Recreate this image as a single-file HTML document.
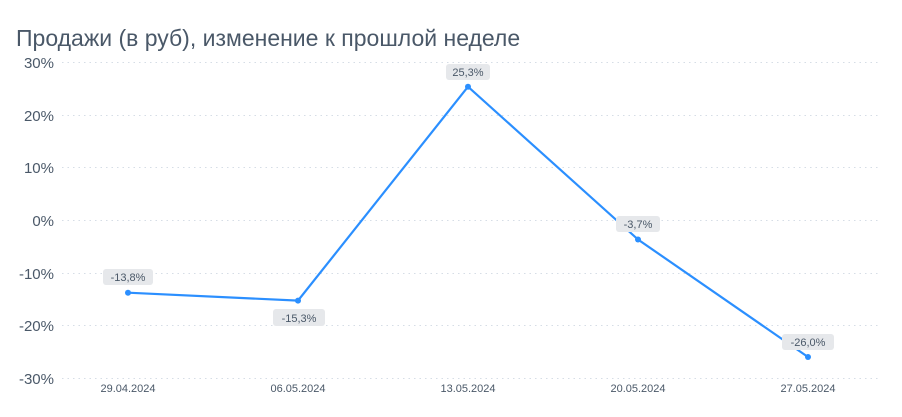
<!DOCTYPE html>
<html><head><meta charset="utf-8"><style>
body{margin:0;background:#fff;width:902px;height:412px;overflow:hidden;font-family:"Liberation Sans",sans-serif}
</style></head><body>
<svg width="902" height="412" xmlns="http://www.w3.org/2000/svg" font-family="Liberation Sans, sans-serif">
<text x="16" y="46" font-size="23" fill="#4a5868">Продажи (в руб), изменение к прошлой неделе</text>
<g stroke="#d6dde6" stroke-width="1" stroke-dasharray="1.5 4">
<line x1="62" x2="880" y1="62.5" y2="62.5"/>
<line x1="62" x2="880" y1="115.5" y2="115.5"/>
<line x1="62" x2="880" y1="167.5" y2="167.5"/>
<line x1="62" x2="880" y1="220.5" y2="220.5"/>
<line x1="62" x2="880" y1="273.5" y2="273.5"/>
<line x1="62" x2="880" y1="325.5" y2="325.5"/>
<line x1="62" x2="880" y1="378.5" y2="378.5"/>
</g>
<g font-size="15" fill="#4a5868" text-anchor="end">
<text x="54" y="68">30%</text>
<text x="54" y="121">20%</text>
<text x="54" y="173">10%</text>
<text x="54" y="226">0%</text>
<text x="54" y="279">-10%</text>
<text x="54" y="331">-20%</text>
<text x="54" y="384">-30%</text>
</g>
<g font-size="11" fill="#4a5868" text-anchor="middle">
<text x="128" y="392">29.04.2024</text>
<text x="298" y="392">06.05.2024</text>
<text x="468" y="392">13.05.2024</text>
<text x="638" y="392">20.05.2024</text>
<text x="808" y="392">27.05.2024</text>
</g>
<polyline points="128,292.7 298,300.6 468,86.7 638,239.5 808,357" fill="none" stroke="#2b8fff" stroke-width="2.2"/>
<g fill="#2b8fff">
<circle cx="128" cy="292.7" r="3"/><circle cx="298" cy="300.6" r="3"/><circle cx="468" cy="86.7" r="3"/><circle cx="638" cy="239.5" r="3"/><circle cx="808" cy="357" r="3"/>
</g>
<g fill="#e6e8eb">
<rect x="103" y="269" width="50" height="16" rx="3"/>
<rect x="273" y="309" width="52" height="17" rx="3"/>
<rect x="446" y="64" width="44" height="16" rx="3"/>
<rect x="616" y="216" width="44" height="16" rx="3"/>
<rect x="782" y="334" width="52" height="16" rx="3"/>
</g>
<g font-size="11" fill="#4a5868" text-anchor="middle">
<text x="128" y="281">-13,8%</text>
<text x="299" y="322">-15,3%</text>
<text x="468" y="76">25,3%</text>
<text x="638" y="228">-3,7%</text>
<text x="808" y="346">-26,0%</text>
</g>
</svg>
</body></html>
